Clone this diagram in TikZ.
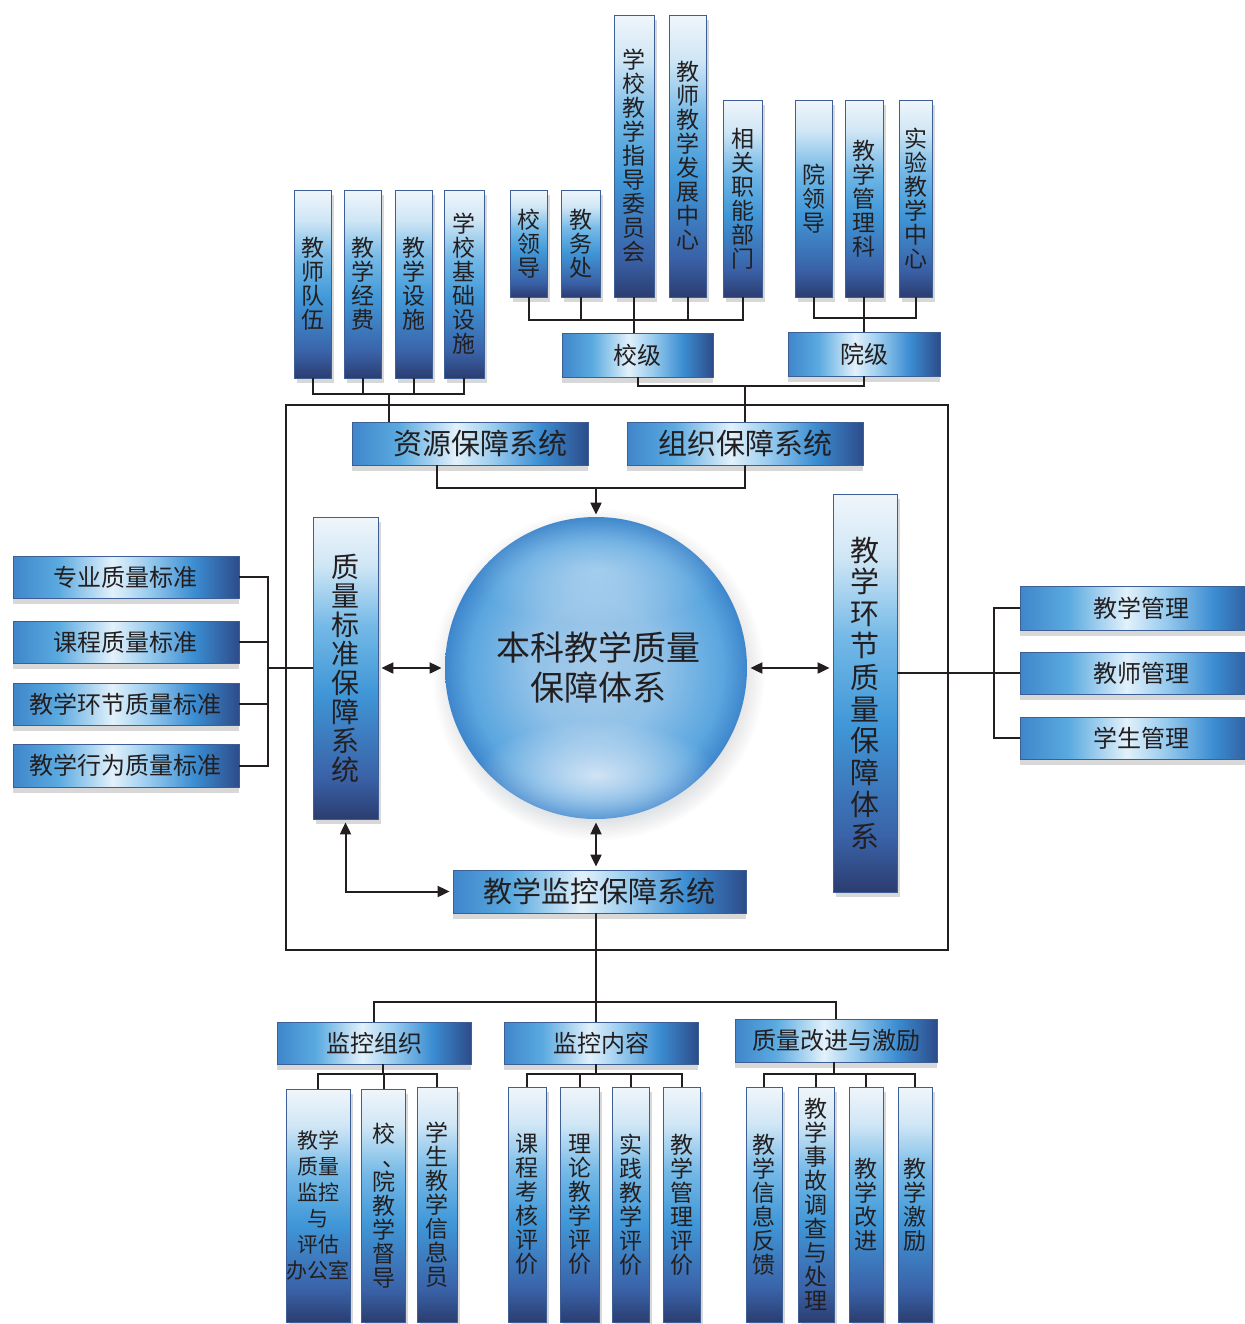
\documentclass[tikz,border=0pt]{standalone}
\usepackage{fontspec}
\setmainfont{Noto Sans CJK SC}
\usetikzlibrary{arrows.meta,shadows,fadings}

\definecolor{txt}{HTML}{231F20}
\definecolor{linec}{HTML}{231F20}
\definecolor{edgec}{HTML}{3E5E96}
% horizontal box colours
\definecolor{hA}{HTML}{3F86CA}
\definecolor{hB}{HTML}{5AAAE0}
\definecolor{hC}{HTML}{E2F1FB}
\definecolor{hD}{HTML}{98CBEE}
\definecolor{hE}{HTML}{3B8DD2}
\definecolor{hF}{HTML}{2D4C8A}
% vertical box colours
\definecolor{vA}{HTML}{2B3D70}
\definecolor{vB}{HTML}{3A62A8}
\definecolor{vC}{HTML}{4097D7}
\definecolor{vD}{HTML}{74B9E7}
\definecolor{vE}{HTML}{CFE6F5}
\definecolor{vF}{HTML}{F0F6FB}
% sphere colours
\definecolor{sA}{HTML}{A6CBE9}
\definecolor{sB}{HTML}{90C1E8}
\definecolor{sC}{HTML}{5AA6DF}
\definecolor{sD}{HTML}{3E86CC}
\definecolor{glow}{HTML}{D6E6F6}

\pgfdeclarehorizontalshading{hshade}{100bp}{color(0bp)=(hA); color(25bp)=(hA); color(35bp)=(hB); color(47bp)=(hC); color(55bp)=(hD); color(65bp)=(hE); color(75bp)=(hF); color(100bp)=(hF)}
\pgfdeclareverticalshading{vshade}{100bp}{color(0bp)=(vA); color(25bp)=(vA); color(32bp)=(vB); color(46bp)=(vC); color(57bp)=(vD); color(67bp)=(vE); color(75bp)=(vF); color(100bp)=(vF)}
\pgfdeclareradialshading{sph}{\pgfpoint{0bp}{0bp}}{color(0bp)=(sA); color(11bp)=(sB); color(21bp)=(sC); color(25bp)=(sD); color(50bp)=(sD)}
\tikzfading[name=softglow, inner color=transparent!0, outer color=transparent!100]

\tikzset{
  conn/.style={draw=linec, line width=1pt},
  darr/.style={conn, {Triangle[length=6pt,width=5.5pt]}-{Triangle[length=6pt,width=5.5pt]}, shorten <=1.5pt, shorten >=1.5pt},
  sarr/.style={conn, -{Triangle[length=6pt,width=5.5pt]}, shorten >=1pt},
  frame/.style={draw=linec, line width=0.8pt},
  box/.style args={#1/#2/#3/#4}{minimum width={(#3-#1)*0.5pt}, minimum height={(#4-#2)*0.5pt},
    at={({(#1+#3)/2},{(#2+#4)/2})}},
  hbox/.style={shading=hshade, draw=edgec, line width=0.4pt, inner sep=0pt, text=txt,
    drop shadow={shadow xshift=0pt, shadow yshift=-3pt, opacity=0.3}},
  vbox/.style={shading=vshade, draw=edgec, line width=0.4pt, inner sep=0pt, text=txt, align=center,
    drop shadow={shadow xshift=1.5pt, shadow yshift=-2.5pt, opacity=0.3}},
  hf/.style={font=\fontsize{12pt}{12pt}\selectfont},
  hbig/.style={font=\fontsize{14.5pt}{14.5pt}\selectfont},
  vf/.style={font=\fontsize{11.5pt}{12pt}\selectfont},
  vbig/.style={font=\fontsize{14pt}{14.5pt}\selectfont},
  vhuge/.style={font=\fontsize{14.5pt}{15.9pt}\selectfont},
}

\begin{document}
\begin{tikzpicture}[x=0.5pt,y=-0.5pt]
\fill[white] (0,0) rectangle (1245,1324);
\useasboundingbox (0,0) rectangle (1245,1324);

\draw[frame] (286,405) rectangle (948,950);

% ---------- top: resources ----------
\node[vbox,vf,box=294/190/331/378] (t1) {教\\师\\队\\伍};
\node[vbox,vf,box=344/190/381/378] (t2) {教\\学\\经\\费};
\node[vbox,vf,box=395/190/432/378] (t3) {教\\学\\设\\施};
\node[vbox,vf,box=444/190/484/378] (t4) {学\\校\\基\\础\\设\\施};
% school level
\node[vbox,vf,box=510/190/547/297] (s1) {校\\领\\导};
\node[vbox,vf,box=561/190/600/297] (s2) {教\\务\\处};
\node[vbox,vf,box=614/15/654/297] (s3) {学\\校\\教\\学\\指\\导\\委\\员\\会};
\node[vbox,vf,box=669/15/706/297] (s4) {教\\师\\教\\学\\发\\展\\中\\心};
\node[vbox,vf,box=723/100/762/297] (s5) {相\\关\\职\\能\\部\\门};
% college level
\node[vbox,vf,box=795/100/832/297] (y1) {院\\领\\导};
\node[vbox,vf,box=845/100/883/297] (y2) {教\\学\\管\\理\\科};
\node[vbox,vf,box=899/100/932/297] (y3) {实\\验\\教\\学\\中\\心};

\node[hbox,hf,box=562/333/713/377] (xj) {校级};
\node[hbox,hf,box=788/332/940/376] (yj) {院级};

\node[hbox,hbig,box=352/422/588/465] (res) {\hspace*{10pt}资源保障系统};
\node[hbox,hbig,box=627/422/863/465] (org) {组织保障系统};

% ---------- centre ----------
\node[circle, shading=sph, minimum size=151pt, inner sep=0pt,
      circular drop shadow={shadow xshift=1pt, shadow yshift=-3pt, opacity=0.25}] (core) at (596,668) {};
\fill[white, opacity=0.35, path fading=softglow] (596,570) ellipse [x radius=130, y radius=55];
\fill[glow, opacity=0.95, path fading=softglow] (596,775) ellipse [x radius=120, y radius=55];
\node[text=txt, align=center, font=\fontsize{17pt}{20pt}\selectfont] (coretext) at (598,667) {本科教学质量\\保障体系};

\node[vbox,vbig,box=313/517/378/819] (qs) {质\\量\\标\\准\\保\\障\\系\\统};
\node[vbox,vhuge,box=833/494/897/892] (env) {教\\学\\环\\节\\质\\量\\保\\障\\体\\系};
\node[hbox,hbig,box=453/870/746/913] (mon) {教学监控保障系统};

% ---------- left standards ----------
\node[hbox,hf,box=13/556/239/598] (l1) {专业质量标准};
\node[hbox,hf,box=13/621/239/663] (l2) {课程质量标准};
\node[hbox,hf,box=13/683/239/725] (l3) {教学环节质量标准};
\node[hbox,hf,box=13/744/239/787] (l4) {教学行为质量标准};

% ---------- right management ----------
\node[hbox,hf,box=1020/586/1262/630] (m1) {教学管理};
\node[hbox,hf,box=1020/652/1262/694] (m2) {教师管理};
\node[hbox,hf,box=1020/717/1262/759] (m3) {学生管理};

% ---------- bottom monitoring ----------
\node[hbox,hf,box=277/1022/471/1064] (g1) {监控组织};
\node[hbox,hf,box=504/1022/698/1064] (g2) {监控内容};
\node[hbox,hf,box=735/1019/937/1062] (g3) {质量改进与激励};

\node[vbox,font=\fontsize{10.5pt}{13pt}\selectfont,box=286/1089/350/1322] (a1) {教学\\质量\\监控\\与\\评估\\办公室};
\node[vbox,vf,box=365/1089/402/1322] (a2) {校\\\hspace*{0.9em}、\\院\\教\\学\\督\\导};
\node[vbox,vf,box=417/1087/457/1322] (a3) {学\\生\\教\\学\\信\\息\\员};

\node[vbox,vf,box=508/1087/546/1322] (b1) {课\\程\\考\\核\\评\\价};
\node[vbox,vf,box=560/1087/599/1322] (b2) {理\\论\\教\\学\\评\\价};
\node[vbox,vf,box=612/1087/649/1322] (b3) {实\\践\\教\\学\\评\\价};
\node[vbox,vf,box=663/1087/700/1322] (b4) {教\\学\\管\\理\\评\\价};

\node[vbox,vf,box=746/1087/782/1322] (c1) {教\\学\\信\\息\\反\\馈};
\node[vbox,vf,box=798/1087/834/1322] (c2) {教\\学\\事\\故\\调\\查\\与\\处\\理};
\node[vbox,vf,box=849/1087/883/1322] (c3) {教\\学\\改\\进};
\node[vbox,vf,box=898/1087/932/1322] (c4) {教\\学\\激\\励};

% ---------- connectors ----------
\coordinate (rb) at (389,394);
\draw[conn] (t1.south) |- (rb) -| (t4.south);
\draw[conn] (t2.south) -- (t2.south |- rb);
\draw[conn] (t3.south) -- (t3.south |- rb);
\draw[conn] (rb) -- (rb |- res.north);

\coordinate (sb) at (634,320);
\draw[conn] (s1.south) |- (sb) -| (s5.south);
\draw[conn] (s2.south) -- (s2.south |- sb);
\draw[conn] (s4.south) -- (s4.south |- sb);
\draw[conn] (s3.south) -- (s3.south |- xj.north);

\coordinate (cb) at (864,318);
\draw[conn] (y1.south) |- (cb) -| (y3.south);
\draw[conn] (y2.south) -- (y2.south |- yj.north);

\coordinate (lv) at (745,386);
\draw[conn] (xj.south) |- (lv) -| (yj.south);
\draw[conn] (lv) -- (lv |- org.north);

\coordinate (rc) at (437,488);
\coordinate (cc) at (596,488);
\draw[conn] (rc |- res.south) -- (rc) -- (rc -| org.south) -- (org.south);
\draw[sarr] (cc) -- (core.north);

\coordinate (lb) at (268,668);
\draw[conn] (l1.east) -| (lb |- l4.east) -- (l4.east);
\draw[conn] (l2.east) -- (l2.east -| lb);
\draw[conn] (l3.east) -- (l3.east -| lb);
\draw[conn] (lb) -- (lb -| qs.west);

\draw[darr] (qs.east) -- (core.west);
\draw[darr] (qs.south) |- (mon.west);
\draw[darr] (core.south) -- (core.south |- mon.north);
\draw[darr] (core.east) -- (core.east -| env.west);

\coordinate (eb) at (994,673);
\draw[conn] (env.east |- m2.west) -- (m2.west);
\draw[conn] (m1.west) -| (eb |- m3.west) -- (m3.west);

\coordinate (bb) at (596,1002);
\draw[conn] (bb |- mon.south) -- (bb);
\draw[conn] (g1.north) |- (bb) -| (g3.north);
\draw[conn] (bb) -- (bb |- g2.north);

\coordinate (ga) at (383,1074);
\draw[conn] (ga |- g1.south) -- (ga);
\draw[conn] (a1.north) |- (ga) -| (a3.north);
\draw[conn] (a2.north) -- (a2.north |- ga);

\coordinate (gb) at (596,1074);
\draw[conn] (gb |- g2.south) -- (gb);
\draw[conn] (b1.north) |- (gb) -| (b4.north);
\draw[conn] (b2.north) -- (b2.north |- gb);
\draw[conn] (b3.north) -- (b3.north |- gb);

\coordinate (gc) at (834,1074);
\draw[conn] (gc |- g3.south) -- (gc);
\draw[conn] (c1.north) |- (gc) -| (c4.north);
\draw[conn] (c2.north) -- (c2.north |- gc);
\draw[conn] (c3.north) -- (c3.north |- gc);
\end{tikzpicture}
\end{document}
